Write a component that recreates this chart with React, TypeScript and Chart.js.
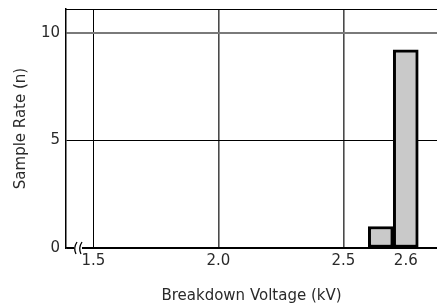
import React, { useEffect, useRef } from "react";
import { Chart, registerables } from "chart.js";

Chart.register(...registerables);

// ---- data ----
const binCentersKV: number[] = [2.56, 2.6];
const sampleCounts: number[] = [1, 9.2];
const xTickKV: number[] = [1.5, 2.0, 2.5, 2.6];
const xTickLabels: string[] = ["1.5", "2.0", "2.5", "2.6"];
const yTicks: number[] = [0, 5, 10];
const xRangeKV: number[] = [1.39, 2.65];
const yMax = 11.1;
const xTitle = "Breakdown Voltage (kV)";
const yTitle = "Sample Rate (n)";

// broken axis: 1.5–2.5 compressed, stretched above 2.5
const toAxis = (kv: number) => (kv <= 2.5 ? (kv - 1.5) / 0.5 : 2 + (kv - 2.5) * 5);

const FONT = { family: "'DejaVu Sans', sans-serif", size: 15 };
const TEXT = "#2a2a2a";

const frame = {
  id: "frame",
  afterDatasetsDraw(chart: any) {
    const { ctx, chartArea } = chart;
    const { left, right, top, bottom } = chartArea;
    ctx.save();
    // top border
    ctx.strokeStyle = "#000";
    ctx.lineWidth = 1;
    ctx.beginPath();
    ctx.moveTo(left, top + 0.5);
    ctx.lineTo(right, top + 0.5);
    ctx.stroke();
    // axis break marks
    const bx = left + 9;
    ctx.fillStyle = "#fff";
    ctx.fillRect(bx - 1, bottom - 2, 8, 4);
    ctx.strokeStyle = "#000";
    ctx.lineWidth = 1.3;
    for (const dx of [0, 5]) {
      ctx.beginPath();
      ctx.moveTo(bx + dx + 2, bottom - 6);
      ctx.quadraticCurveTo(bx + dx - 2, bottom, bx + dx + 1, bottom + 6);
      ctx.stroke();
    }
    ctx.restore();
  },
};

export default function App() {
  const ref = useRef<HTMLCanvasElement | null>(null);
  useEffect(() => {
    document.body.style.margin = "0";
    const chart = new Chart(ref.current!, {
      type: "bar",
      data: {
        datasets: [
          {
            data: binCentersKV.map((kv, i) => ({ x: toAxis(kv), y: sampleCounts[i] })),
            backgroundColor: "#c9c9c9",
            borderColor: "#000",
            borderWidth: 3,
            borderSkipped: false,
            categoryPercentage: 1,
            barPercentage: 1,
          },
        ],
      },
      options: {
        animation: false,
        responsive: false,
        layout: { padding: { left: 0, right: 0, top: 9, bottom: 0 } },
        plugins: { legend: { display: false }, tooltip: { enabled: false } },
        scales: {
          x: {
            type: "linear",
            offset: false,
            min: toAxis(xRangeKV[0]),
            max: toAxis(xRangeKV[1]),
            afterBuildTicks: (s: any) => {
              s.ticks = xTickKV.map((v) => ({ value: toAxis(v) }));
            },
            afterFit: (s: any) => {
              s.height = 59;
              s.paddingLeft = 0;
              s.paddingRight = 0;
            },
            ticks: {
              autoSkip: false,
              maxRotation: 0,
              padding: 4,
              color: TEXT,
              font: FONT,
              callback: (_v: any, i: number) => xTickLabels[i],
            },
            grid: {
              offset: false,
              drawTicks: false,
              color: (c: any) => (c.index === 0 ? "#000" : c.index === 3 ? "rgba(0,0,0,0)" : "#4a4a4a"),
              lineWidth: (c: any) => (c.index === 0 ? 1 : 1.6),
            },
            border: { color: "#000", width: 1.5 },
            title: { display: true, text: xTitle, color: TEXT, font: FONT, padding: { top: 0, bottom: 2 } },
          },
          y: {
            min: 0,
            max: yMax,
            afterBuildTicks: (s: any) => {
              s.ticks = yTicks.map((v) => ({ value: v }));
            },
            afterFit: (s: any) => {
              s.width = 66;
              s.paddingTop = 0;
              s.paddingBottom = 0;
            },
            ticks: { padding: 6, color: TEXT, font: FONT },
            grid: {
              drawTicks: false,
              color: (c: any) => (c.tick && c.tick.value === 10 ? "#7a7a7a" : "#000"),
              lineWidth: (c: any) => (c.tick && c.tick.value === 10 ? 2 : 1),
            },
            border: { color: "#000", width: 1.5 },
            title: { display: true, text: yTitle, color: TEXT, font: FONT, padding: { top: 12, bottom: 0 } },
          },
        },
      },
      plugins: [frame],
    } as any);
    return () => chart.destroy();
  }, []);
  return (
    <div style={{ width: 437, height: 307, overflow: "hidden" }}>
      <canvas ref={ref} width={437} height={307} style={{ display: "block" }} />
    </div>
  );
}
